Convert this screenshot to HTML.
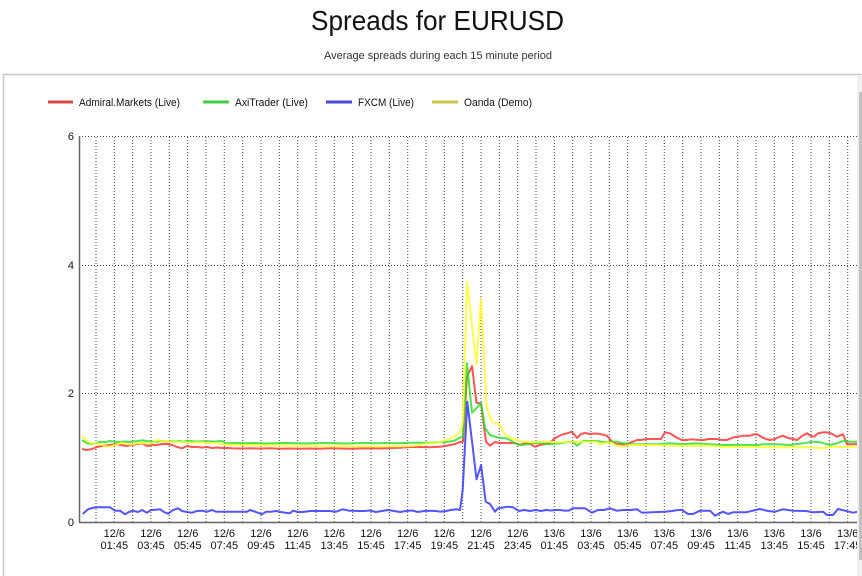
<!DOCTYPE html>
<html>
<head>
<meta charset="utf-8">
<style>
html,body{margin:0;padding:0;background:#fff;}
body{width:862px;height:576px;overflow:hidden;}
svg{display:block;}
text{font-family:"Liberation Sans",Arial,sans-serif;}
</style>
</head>
<body>
<svg width="862" height="576" viewBox="0 0 862 576" xmlns="http://www.w3.org/2000/svg">
<rect x="0" y="0" width="862" height="576" fill="#fff"/>
<!-- Title -->
<text x="437.5" y="30" font-size="28" text-anchor="middle" fill="#111" textLength="253" lengthAdjust="spacingAndGlyphs">Spreads for EURUSD</text>
<text x="438" y="59" font-size="11" text-anchor="middle" fill="#333" textLength="228" lengthAdjust="spacingAndGlyphs">Average spreads during each 15 minute period</text>
<!-- box -->
<rect x="3.5" y="74.5" width="870" height="520" fill="none" stroke="#c8c8c8" stroke-width="1.5"/>

<!-- legend -->
<g font-size="11" fill="#111">
<line x1="48" y1="102" x2="73" y2="102" stroke="#d84a4a" stroke-width="3"/>
<text x="79" y="106" textLength="101" lengthAdjust="spacingAndGlyphs">Admiral.Markets (Live)</text>
<line x1="203" y1="102" x2="229" y2="102" stroke="#48cc48" stroke-width="3"/>
<text x="235" y="106" textLength="73" lengthAdjust="spacingAndGlyphs">AxiTrader (Live)</text>
<line x1="326" y1="102" x2="352" y2="102" stroke="#4848d4" stroke-width="3"/>
<text x="358" y="106" textLength="56" lengthAdjust="spacingAndGlyphs">FXCM (Live)</text>
<line x1="432" y1="102" x2="458" y2="102" stroke="#c8c84a" stroke-width="3"/>
<text x="464" y="106" textLength="68" lengthAdjust="spacingAndGlyphs">Oanda (Demo)</text>
</g>

<defs><clipPath id="c"><rect x="0" y="0" width="857" height="576"/></clipPath></defs>
<g clip-path="url(#c)">
<!-- horizontal grid -->
<g stroke="#444" stroke-width="1" stroke-dasharray="1,2">
<line x1="79" y1="136.5" x2="862" y2="136.5"/>
<line x1="79" y1="265.5" x2="862" y2="265.5"/>
<line x1="79" y1="393.5" x2="862" y2="393.5"/>
</g>
<!-- vertical grid -->
<g stroke="#444" stroke-width="1" stroke-dasharray="1,2">
<line x1="96.0" y1="137" x2="96.0" y2="522"/>
<line x1="114.3" y1="137" x2="114.3" y2="522"/>
<line x1="132.7" y1="137" x2="132.7" y2="522"/>
<line x1="151.0" y1="137" x2="151.0" y2="522"/>
<line x1="169.3" y1="137" x2="169.3" y2="522"/>
<line x1="187.7" y1="137" x2="187.7" y2="522"/>
<line x1="206.0" y1="137" x2="206.0" y2="522"/>
<line x1="224.3" y1="137" x2="224.3" y2="522"/>
<line x1="242.7" y1="137" x2="242.7" y2="522"/>
<line x1="261.0" y1="137" x2="261.0" y2="522"/>
<line x1="279.3" y1="137" x2="279.3" y2="522"/>
<line x1="297.7" y1="137" x2="297.7" y2="522"/>
<line x1="316.0" y1="137" x2="316.0" y2="522"/>
<line x1="334.3" y1="137" x2="334.3" y2="522"/>
<line x1="352.7" y1="137" x2="352.7" y2="522"/>
<line x1="371.0" y1="137" x2="371.0" y2="522"/>
<line x1="389.3" y1="137" x2="389.3" y2="522"/>
<line x1="407.7" y1="137" x2="407.7" y2="522"/>
<line x1="426.0" y1="137" x2="426.0" y2="522"/>
<line x1="444.3" y1="137" x2="444.3" y2="522"/>
<line x1="462.7" y1="137" x2="462.7" y2="522"/>
<line x1="481.0" y1="137" x2="481.0" y2="522"/>
<line x1="499.3" y1="137" x2="499.3" y2="522"/>
<line x1="517.7" y1="137" x2="517.7" y2="522"/>
<line x1="536.0" y1="137" x2="536.0" y2="522"/>
<line x1="554.3" y1="137" x2="554.3" y2="522"/>
<line x1="572.7" y1="137" x2="572.7" y2="522"/>
<line x1="591.0" y1="137" x2="591.0" y2="522"/>
<line x1="609.3" y1="137" x2="609.3" y2="522"/>
<line x1="627.7" y1="137" x2="627.7" y2="522"/>
<line x1="646.0" y1="137" x2="646.0" y2="522"/>
<line x1="664.3" y1="137" x2="664.3" y2="522"/>
<line x1="682.7" y1="137" x2="682.7" y2="522"/>
<line x1="701.0" y1="137" x2="701.0" y2="522"/>
<line x1="719.3" y1="137" x2="719.3" y2="522"/>
<line x1="737.7" y1="137" x2="737.7" y2="522"/>
<line x1="756.0" y1="137" x2="756.0" y2="522"/>
<line x1="774.3" y1="137" x2="774.3" y2="522"/>
<line x1="792.7" y1="137" x2="792.7" y2="522"/>
<line x1="811.0" y1="137" x2="811.0" y2="522"/>
<line x1="829.3" y1="137" x2="829.3" y2="522"/>
<line x1="847.7" y1="137" x2="847.7" y2="522"/>
</g>

<!-- series -->
<g fill="none" stroke-width="2" stroke-linejoin="round" stroke-opacity="0.8">
<polyline stroke="#ff2a2a" points="82,449 87,450 92,449 97,447 104,445.7 110,445 116,444 121,445 126,446 132,445 137,444 142,443.3 147,446 152,445 157,445 162,444 167,444 172,445 177,447 182,448.3 187,446 192,447 197,447 202,447.5 207,447 212,448 217,447.5 222,448 227,448 232,448.3 240,448.5 250,448.3 260,448.5 270,448.3 280,448.7 290,448.5 300,448.7 310,448.5 320,448.7 330,448.3 340,448.5 350,448.7 360,448.5 370,448.3 380,448.5 390,448 400,447.7 410,447 420,447 430,447.3 440,446.7 445,446 450,445 455,444 459,442.3 463,441.7 467,376.7 472,366 476.5,403 481,403.3 486,441.7 490,445.7 495,442 500,443 505,443 510,443 515,443 520,445 525,443 530,444 535,446.7 540,445 545,444 550,442.7 555,438 559,436 563,434.3 568,433 572,431.7 577,438 581,434 585,433 590,434 595,433.5 600,434 607,435.7 612,441.7 617,444.3 621,444 625,445 629,443 633,441.7 637,440 641,440 646,439 652,439 657,439 661,439 665,432.3 670,433.3 674,436 678,438.3 682,440 687,440 691,439.3 696,439.7 700,440 704,440 708,439 713,439 717,439 722,440 727,440 731,438.3 735,437 738,436.7 743,435.7 750,435.7 754,434.3 757,434.3 763,437.7 766,439 770,440 775,439 779,437 783,435.7 788,438 793,439 797,440 802,436 807,433.3 811,436 814,436.7 818,433.3 822,432.5 825,432.3 830,433 834,435 837,436.7 841,435 843,434.3 847,444.3 852,444.3 858,444"/>
<polyline stroke="#22dd22" points="82,440 87,443.3 92,444 97,443 101,441.7 106,442 110,441 115,441.7 120,442 124,441.5 129,442 133,441.5 138,441 142,440.3 147,441 152,441.5 156,442 161,441 166,441.5 170,441.3 175,441.5 179,441 184,441.7 188,440.7 195,441.5 205,441.3 215,441.5 222,441 226,443.3 235,443 245,443.3 255,443 265,443.5 275,443.3 285,443 295,443.3 305,443.5 315,443.3 325,443 335,443.3 345,443.5 355,443.3 365,443 375,443.3 385,443 395,443.3 405,443 412,442.7 430,442.7 440,442.3 449,441.7 455,440.5 459,438 463,436.7 467,363.3 472,412.7 476.5,408 481,403.3 485,428 490,435 495,436.7 500,438 506,438.3 510,440 517,444.3 522,445 527,444.3 533,443.3 540,443.3 550,444.3 560,443.3 568,442 573,441.7 577,445.7 583,441 590,441 597,441 605,442.3 612,441.7 617,441.7 623,443.3 630,444 637,444.3 645,444.3 657,444.3 670,443.3 683,444.3 696,443.3 710,444.3 723,445 737,445 757,445 763,444.3 777,444.3 790,445 803,443.3 813,441.7 820,442.3 830,445 837,443.3 843,441 850,441.7 858,441.7"/>
<polyline stroke="#2a2aff" points="82.7,514 88,509.3 92,508 97,507.3 104,507.3 110,507.3 115,510.7 120,510.7 125,514.3 129,512 133,510.7 138,512 142,510 147,512.7 151,510 156,509.7 160,509.3 164,512 168,513.7 173,510 178,508.3 182,511 187,512 192,512.7 197,511 202,510.7 207,511.7 212,510 216,511.7 221,511.7 226,511.7 231,511.7 236,511.7 241,511.7 247,511.7 250,510 256,512 262,514.3 266,511.7 271,511.7 276,511 281,512 287,513 290,513.3 293,510.7 298,512 303,512 310,511 317,511 323,511 330,511 336,511.7 343,509.3 349,510.7 353,510.7 358,511 364,511 370,510.5 376,512 382,511 388,510 394,511 400,512 406,511 412,510.5 418,512 424,511 430,510.7 436,511 440,511.7 446,511 451,510 456.7,509.3 460,510 462.7,490 467.3,401.7 476.5,479.3 481.1,465 485.7,501.7 490,504 495,511.7 498,508.3 503,507.5 508,506.7 513,507.3 519,511 524,510 530,511 536,510 541,511 546,510 551,510.5 556,510 560,510 565,510.7 569,510.5 573,508.3 578,508.3 585,508.3 592,512.7 598,510 604,510 610,508.3 617,510.7 623,510 630,510 637,509.3 642,512.7 652,512.3 665,511.7 672,511 678,510 682,510 688,514 693,514 700,510.7 710,510.7 715,515.7 723,511.7 728,514 733,512.3 746,512.3 760,509 768,511 775,511.7 783,509.3 793,510.7 806,511 813,512.3 823,511.7 827,515 833,515 838,509 845,510.7 853,512.7 858,511.7"/>
<polyline stroke="#ffff22" points="82,435.7 87,441 92,443.5 97,443.7 101,444.5 107,446.7 112,446 117,444.3 122,443 127,444 131,444.5 136,443.5 141,443 146,443.5 152,443.3 157,440 162,441.5 167,441 172,442 177,441.7 182,442 187,442.5 192,442.7 197,442.3 202,442.5 207,442.7 212,443 217,443 222,444 230,445 240,445.3 250,445 260,445.5 270,445.3 280,445.7 290,445.5 300,446 310,445.7 320,446 330,446.3 340,446 350,446.3 360,446.5 370,446.3 380,446.5 390,446.3 400,446.3 412,446 420,445 428,443.3 435,443 441,442 446,440 450,438.7 454,437 459,433 462,427 463,420 467,281.7 476.5,365 481,298.3 486.5,406.7 491.7,421.7 495,423 499,424 504,433 508,436 513,439 517,440 521,441.7 527,441.7 533,442.3 540,441.7 548,441.7 555,442.3 562,442.3 570,441.7 580,441.7 590,441.7 597,441.7 600,444.3 607,442.3 612,443 615,445 622,446.7 630,445 645,445 660,445 670,445.7 690,445.7 710,445.7 723,447 740,446.7 757,447 770,447.3 790,447.3 810,447.3 823,448.3 830,446.7 837,447 858,446.7"/>
</g>

<!-- axes -->
<line x1="79.5" y1="136" x2="79.5" y2="523" stroke="#666" stroke-width="1.5"/>
<line x1="79" y1="522.5" x2="862" y2="522.5" stroke="#666" stroke-width="1.5"/>

<!-- x labels -->
<g font-size="11" fill="#111" text-anchor="middle">
<text x="114.3" y="537">12/6</text><text x="114.3" y="549">01:45</text>
<text x="151.0" y="537">12/6</text><text x="151.0" y="549">03:45</text>
<text x="187.7" y="537">12/6</text><text x="187.7" y="549">05:45</text>
<text x="224.3" y="537">12/6</text><text x="224.3" y="549">07:45</text>
<text x="261.0" y="537">12/6</text><text x="261.0" y="549">09:45</text>
<text x="297.7" y="537">12/6</text><text x="297.7" y="549">11:45</text>
<text x="334.3" y="537">12/6</text><text x="334.3" y="549">13:45</text>
<text x="371.0" y="537">12/6</text><text x="371.0" y="549">15:45</text>
<text x="407.7" y="537">12/6</text><text x="407.7" y="549">17:45</text>
<text x="444.3" y="537">12/6</text><text x="444.3" y="549">19:45</text>
<text x="481.0" y="537">12/6</text><text x="481.0" y="549">21:45</text>
<text x="517.7" y="537">12/6</text><text x="517.7" y="549">23:45</text>
<text x="554.3" y="537">13/6</text><text x="554.3" y="549">01:45</text>
<text x="591.0" y="537">13/6</text><text x="591.0" y="549">03:45</text>
<text x="627.7" y="537">13/6</text><text x="627.7" y="549">05:45</text>
<text x="664.3" y="537">13/6</text><text x="664.3" y="549">07:45</text>
<text x="701.0" y="537">13/6</text><text x="701.0" y="549">09:45</text>
<text x="737.7" y="537">13/6</text><text x="737.7" y="549">11:45</text>
<text x="774.3" y="537">13/6</text><text x="774.3" y="549">13:45</text>
<text x="811.0" y="537">13/6</text><text x="811.0" y="549">15:45</text>
<text x="847.7" y="537">13/6</text><text x="847.7" y="549">17:45</text>
</g>
</g>

<!-- y labels -->
<g font-size="11" fill="#111" text-anchor="end">
<text x="74" y="140">6</text>
<text x="74" y="269">4</text>
<text x="74" y="397">2</text>
<text x="74" y="526">0</text>
</g>

<!-- scrollbar -->
<rect x="857" y="75" width="5" height="501" fill="#f1f1f1"/>
<rect x="859" y="92" width="3" height="468" fill="#c1c1c1"/>
</svg>
</body>
</html>
